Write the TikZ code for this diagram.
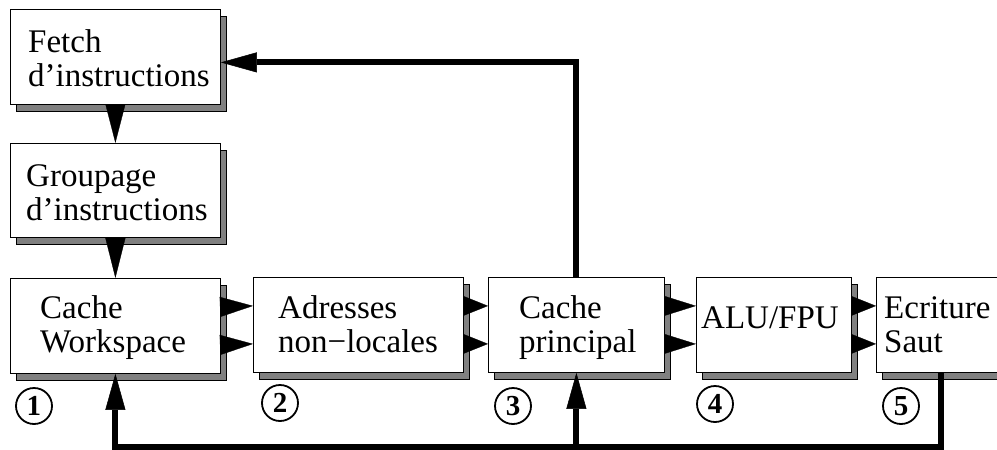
\documentclass[tikz,border=0pt]{standalone}
\usepackage{fontspec}
\setmainfont{Liberation Serif}
\usetikzlibrary{arrows.meta,shadows,calc}
\begin{document}
\begin{tikzpicture}[x=1pt,y=-1pt,
  box/.style={draw=black, line width=0.8pt, fill=white, anchor=north west, inner sep=0pt,
     drop shadow={shadow xshift=6pt, shadow yshift=-7pt, fill=gray, draw=black, line width=0.8pt, opacity=1}},
  txt/.style={anchor=base west, inner sep=0pt, font=\fontsize{33}{38}\selectfont},
  flow/.style={line width=0.3pt, -{Triangle[length=#1, width=20pt, line width=0.3pt]}},
  fbarrow/.style={line width=6pt, line join=miter, -{Triangle[length=36pt, width=20pt, line width=0.5pt]}},
  num/.style={circle, draw, line width=1.8pt, minimum size=36pt, inner sep=0pt, font=\fontsize{29}{29}\selectfont\bfseries}
]
\useasboundingbox (0,0) rectangle (997,450);
\clip (0,0) rectangle (997,450);

% boxes
\node[box, minimum width=210pt, minimum height=95pt] (fetch) at (10,9) {};
\node[box, minimum width=210pt, minimum height=94pt] (grp) at (10,143) {};
\node[box, minimum width=210pt, minimum height=95pt] (cws) at (10,278) {};
\node[box, minimum width=210pt, minimum height=95pt] (adr) at (253,277) {};
\node[box, minimum width=176pt, minimum height=95pt] (cp) at (488,277) {};
\node[box, minimum width=155pt, minimum height=95pt] (alu) at (696,277) {};
\node[box, minimum width=130pt, minimum height=95pt] (ecr) at (876,277) {};

% texts
\node[txt] (t1a) at (28,52) {Fetch};
\node[txt] (t1b) at (28,86) {d’instructions};
\node[txt] (t2a) at (26,186) {Groupage};
\node[txt] (t2b) at (26,220) {d’instructions};
\node[txt] (t3a) at (40,318) {Cache};
\node[txt] (t3b) at (40,352) {Workspace};
\node[txt] (t4a) at (278,318) {Adresses};
\node[txt] (t4b) at (278,352) {non−locales};
\node[txt] (t5a) at (519,318) {Cache};
\node[txt] (t5b) at (519,352) {principal};
\node[txt] (t6) at (701,328) {ALU/FPU};
\node[txt] (t7a) at (884,318) {Ecriture};
\node[txt] (t7b) at (884,352) {Saut};

% stage numbers
\node[num] (n1) at (34,406) {1};
\node[num] (n2) at (280,403) {2};
\node[num] (n3) at (513,406) {3};
\node[num] (n4) at (715,404) {4};
\node[num] (n5) at (901,406) {5};

% flow triangles
\draw[flow=39pt] (fetch.south) -- (grp.north);
\draw[flow=40pt] (grp.south) -- (cws.north);
\draw[flow=33pt] ($(cws.east)+(0,-19)$) -- ($(adr.west)+(0,-19)$);
\draw[flow=33pt] ($(cws.east)+(0,19)$) -- ($(adr.west)+(0,19)$);
\draw[flow=25pt] ($(adr.east)+(0,-19)$) -- ($(cp.west)+(0,-19)$);
\draw[flow=25pt] ($(adr.east)+(0,19)$) -- ($(cp.west)+(0,19)$);
\draw[flow=32pt] ($(cp.east)+(0,-19)$) -- ($(alu.west)+(0,-19)$);
\draw[flow=32pt] ($(cp.east)+(0,19)$) -- ($(alu.west)+(0,19)$);
\draw[flow=25pt] ($(alu.east)+(0,-19)$) -- ($(ecr.west)+(0,-19)$);
\draw[flow=25pt] ($(alu.east)+(0,19)$) -- ($(ecr.west)+(0,19)$);

% feedback
\coordinate (bot) at (0,447);
\draw[fbarrow] (cp.north) |- ([yshift=-5.5pt]fetch.east);
\draw[fbarrow] (ecr.south) |- (bot -| cws.south) -- (cws.south);
\draw[fbarrow] (cp.south |- bot) -- (cp.south);
\end{tikzpicture}
\end{document}
